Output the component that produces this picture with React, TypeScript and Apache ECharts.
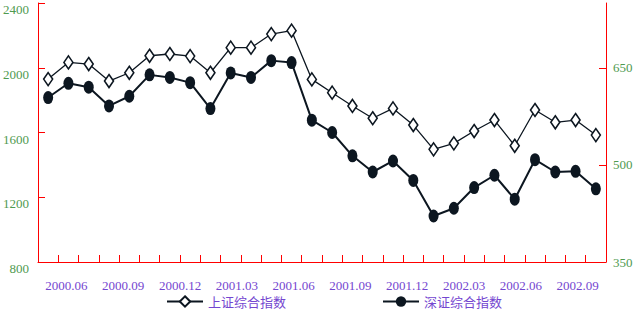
import React, { useEffect, useRef } from "react";
import * as echarts from "echarts";

const months = [
  "2000.06","2000.07","2000.08","2000.09","2000.10","2000.11","2000.12",
  "2001.01","2001.02","2001.03","2001.04","2001.05","2001.06","2001.07",
  "2001.08","2001.09","2001.10","2001.11","2001.12","2002.01","2002.02",
  "2002.03","2002.04","2002.05","2002.06","2002.07","2002.08","2002.09",
];
const tickLabels = [
  "2000.06","2000.09","2000.12","2001.03","2001.06",
  "2001.09","2001.12","2002.03","2002.06","2002.09",
];
const shanghai = [
  1930, 2033, 2023, 1918, 1969, 2074, 2085, 2072, 1969, 2124, 2124, 2208, 2229, 1928,
  1846, 1764, 1688, 1749, 1646, 1496, 1533, 1609, 1677, 1518, 1739, 1663, 1677, 1584,
];
const shenzhen = [
  604, 626, 620, 591, 606, 639, 635, 627, 587, 642, 635, 661, 658, 569,
  550, 514, 489, 506, 476, 421, 433, 465, 484, 447, 508, 489, 490, 463,
];
const leftTicks = [800, 1200, 1600, 2000, 2400];
const rightTicks = [350, 500, 650];
const seriesNames = ["上证综合指数", "深证综合指数"];

const RED = "#ff0000";
const GREEN = "#4f9a4f";
const PURPLE = "#7446d0";
const INK = "#0c1620";

export default function App() {
  const ref = useRef<HTMLDivElement>(null);
  useEffect(() => {
    if (!ref.current) return;
    const chart = echarts.init(ref.current, undefined, { renderer: "svg" });
    const ellipse = "path://M5,0 A5,6.5 0 1,1 5,13 A5,6.5 0 1,1 5,0 Z";
    const legendText = {
      color: PURPLE,
      fontSize: 13,
      fontFamily: "Noto Sans CJK SC",
      lineHeight: 15,
    };
    chart.setOption({
      animation: false,
      backgroundColor: "#ffffff",
      grid: { left: 35, right: 31, top: 3, bottom: 51, containLabel: false },
      legend: [
        {
          data: [seriesNames[0]],
          left: 166,
          top: 294,
          padding: 0,
          itemWidth: 36,
          itemHeight: 13,
          itemGap: 0,
          textStyle: legendText,
        },
        {
          data: [seriesNames[1]],
          left: 382,
          top: 294,
          padding: 0,
          itemWidth: 36,
          itemHeight: 13,
          itemGap: 0,
          textStyle: legendText,
        },
      ],
      xAxis: [
        {
          type: "category",
          data: months,
          position: "bottom",
          boundaryGap: true,
          axisLine: { show: true, onZero: false, lineStyle: { color: RED, width: 1 } },
          axisTick: { show: true, inside: true, length: 7, interval: 0, lineStyle: { color: RED } },
          axisLabel: { show: false },
          splitLine: { show: false },
        },
        {
          type: "category",
          data: tickLabels,
          position: "bottom",
          boundaryGap: true,
          axisLine: { show: false },
          axisTick: { show: false },
          axisLabel: {
            show: true,
            interval: 0,
            margin: 17,
            color: PURPLE,
            fontSize: 13,
            fontFamily: "Liberation Serif",
          },
          splitLine: { show: false },
        },
      ],
      yAxis: [
        {
          type: "value",
          min: leftTicks[0],
          max: leftTicks[leftTicks.length - 1],
          interval: 400,
          position: "left",
          axisLine: { show: true, lineStyle: { color: RED, width: 1 } },
          axisTick: { show: true, inside: true, length: 7, lineStyle: { color: RED } },
          axisLabel: {
            color: GREEN,
            fontSize: 13,
            fontFamily: "Liberation Serif",
            margin: 9,
            verticalAlign: "top",
            formatter: (v: number) => String(v),
          },
          splitLine: { show: false },
        },
        {
          type: "value",
          min: 350,
          max: 750,
          position: "right",
          axisLine: { show: true, lineStyle: { color: RED, width: 1 } },
          axisTick: { show: true, inside: true, length: 7, customValues: rightTicks, lineStyle: { color: RED } },
          axisLabel: {
            color: GREEN,
            fontSize: 13,
            fontFamily: "Liberation Serif",
            margin: 7,
            customValues: rightTicks,
            formatter: (v: number) => String(v),
          },
          splitLine: { show: false },
        },
      ],
      series: [
        {
          name: seriesNames[0],
          type: "line",
          xAxisIndex: 0,
          yAxisIndex: 0,
          data: shanghai,
          symbol: "diamond",
          symbolSize: [9, 13],
          showAllSymbol: true,
          lineStyle: { color: INK, width: 1.3 },
          itemStyle: { color: "#ffffff", borderColor: INK, borderWidth: 1.6 },
          z: 3,
        },
        {
          name: seriesNames[1],
          type: "line",
          xAxisIndex: 0,
          yAxisIndex: 1,
          data: shenzhen,
          symbol: ellipse,
          symbolSize: [10, 13],
          showAllSymbol: true,
          lineStyle: { color: INK, width: 2 },
          itemStyle: { color: INK, borderColor: INK, borderWidth: 0 },
          z: 2,
        },
      ],
    });
    return () => chart.dispose();
  }, []);
  return (
    <div
      ref={ref}
      style={{ position: "fixed", left: 0, top: 0, width: 637, height: 313 }}
    />
  );
}
